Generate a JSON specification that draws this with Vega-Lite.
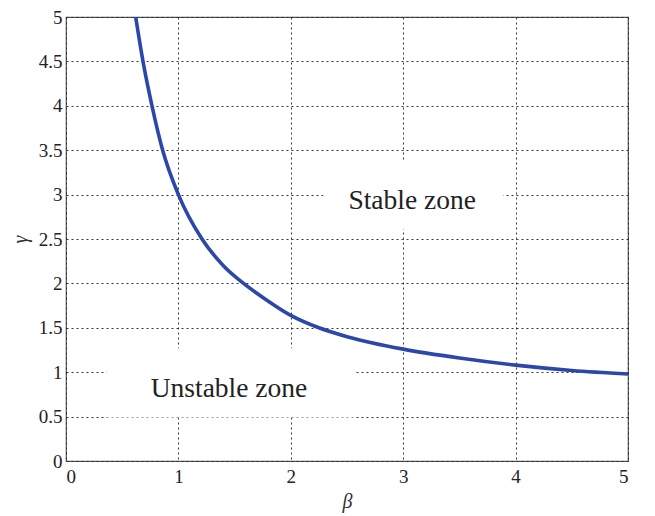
{
  "$schema": "https://vega.github.io/schema/vega-lite/v6.json",
  "width": 562,
  "height": 444,
  "autosize": "none",
  "padding": {"left": 66, "top": 17, "right": 27, "bottom": 55},
  "background": "white",
  "config": {
    "view": {"stroke": "#555555", "strokeWidth": 1.2},
    "axis": {
      "grid": true,
      "gridColor": "#222222",
      "gridDash": [2, 3],
      "gridWidth": 1,
      "gridOpacity": 0.9,
      "domain": false,
      "ticks": false,
      "labelColor": "#222222",
      "titleFont": "Liberation Serif",
      "titleFontStyle": "italic",
      "titleFontWeight": "normal",
      "titleFontSize": 20,
      "titleColor": "#333333"
    }
  },
  "datasets": {
    "curve": [
      {"beta": 0.62, "gamma": 5.0},
      {"beta": 0.685, "gamma": 4.5},
      {"beta": 0.765, "gamma": 4.0},
      {"beta": 0.86, "gamma": 3.5},
      {"beta": 1.0, "gamma": 3.0},
      {"beta": 1.21, "gamma": 2.5},
      {"beta": 1.4, "gamma": 2.2},
      {"beta": 1.58, "gamma": 2.0},
      {"beta": 1.8, "gamma": 1.8},
      {"beta": 2.0, "gamma": 1.64},
      {"beta": 2.25, "gamma": 1.5},
      {"beta": 2.5, "gamma": 1.4},
      {"beta": 3.0, "gamma": 1.26},
      {"beta": 3.5, "gamma": 1.16},
      {"beta": 4.0, "gamma": 1.08},
      {"beta": 4.5, "gamma": 1.02},
      {"beta": 5.0, "gamma": 0.98}
    ],
    "boxes": [
      {"b1": 2.29, "b2": 3.89, "g1": 2.61, "g2": 3.37},
      {"b1": 0.36, "b2": 2.58, "g1": 0.49, "g2": 1.27}
    ],
    "labels": [
      {"beta": 3.08, "gamma": 2.93, "text": "Stable zone"},
      {"beta": 1.45, "gamma": 0.81, "text": "Unstable zone"}
    ]
  },
  "layer": [
    {
      "data": {"name": "boxes"},
      "mark": {"type": "rect", "fill": "white", "stroke": null},
      "encoding": {
        "x": {"field": "b1", "type": "quantitative", "scale": {"domain": [0, 5], "nice": false}, "axis": {"values": [0, 1, 2, 3, 4, 5], "format": "~g", "title": "β", "labelFont": "Liberation Serif", "labelFontSize": 19, "labelPadding": 6, "titlePadding": 5}},
        "x2": {"field": "b2"},
        "y": {"field": "g1", "type": "quantitative", "scale": {"domain": [0, 5], "nice": false}, "axis": {"values": [0, 0.5, 1, 1.5, 2, 2.5, 3, 3.5, 4, 4.5, 5], "format": "~g", "title": "γ", "labelFont": "Liberation Serif", "labelFontSize": 19, "labelPadding": 4, "titlePadding": 8}},
        "y2": {"field": "g2"}
      }
    },
    {
      "data": {"name": "curve"},
      "mark": {"type": "line", "color": "#2c47aa", "strokeWidth": 3.6, "interpolate": "monotone", "clip": true},
      "encoding": {
        "x": {"field": "beta", "type": "quantitative"},
        "y": {"field": "gamma", "type": "quantitative"}
      }
    },
    {
      "data": {"name": "labels"},
      "mark": {"type": "text", "font": "Liberation Serif", "fontSize": 27.5, "color": "#222222", "align": "center", "baseline": "middle"},
      "encoding": {
        "x": {"field": "beta", "type": "quantitative"},
        "y": {"field": "gamma", "type": "quantitative"},
        "text": {"field": "text"}
      }
    }
  ]
}
